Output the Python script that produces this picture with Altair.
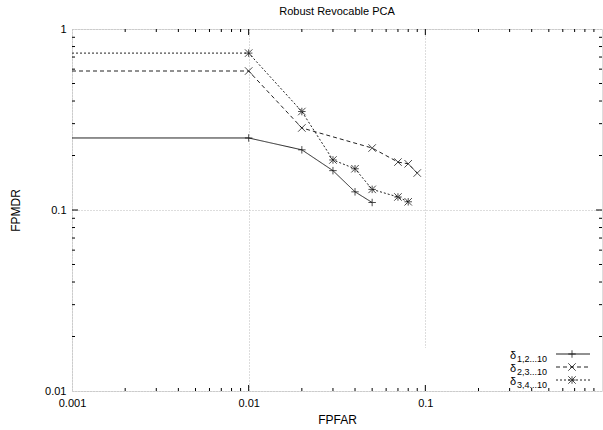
import altair as alt
import pandas as pd

# ---- data ----
x1 = [0.001, 0.01, 0.02, 0.03, 0.04, 0.05]
y1 = [0.25, 0.25, 0.215, 0.165, 0.126, 0.11]
x2 = [0.001, 0.01, 0.02, 0.05, 0.07, 0.08, 0.09]
y2 = [0.586, 0.586, 0.284, 0.22, 0.184, 0.18, 0.16]
x3 = [0.001, 0.01, 0.02, 0.03, 0.04, 0.05, 0.07, 0.08]
y3 = [0.736, 0.736, 0.35, 0.189, 0.169, 0.13, 0.118, 0.111]
series_sub = ["1,2...10", "2,3...10", "3,4...10"]
x_labels = [0.001, 0.01, 0.1]
y_labels = [0.01, 0.1, 1]
minor_mult = [2, 3, 4, 5, 6, 7, 8, 9]

W, H = 530, 362
FONT = "Liberation Sans"

xs = alt.Scale(type="log", domain=[0.001, 1], nice=False)
ys = alt.Scale(type="log", domain=[0.01, 1], nice=False)

dashes = [[1, 0], [4, 3], [2, 2]]
cross = "M-1,0L1,0M0,-1L0,1"
xmark = "M-1,-1L1,1M-1,1L1,-1"
star = "M-1,0L1,0M0,-1L0,1M-1,-1L1,1M-1,1L1,-1"
shapes = [cross, xmark, star]

layers = []

# base with axes + grid
base_df = pd.DataFrame({"x": [0.001], "y": [0.01]})
base = alt.Chart(base_df).mark_point(opacity=0).encode(
    x=alt.X("x:Q", scale=xs, title="FPFAR",
            axis=alt.Axis(values=x_labels, format="~g", ticks=False, domain=False,
                          grid=True, gridDash=[1, 2], gridColor="#bbbbbb",
                          labelFlush=False,
                          labelFontSize=11, labelPadding=6, titleFontSize=12,
                          titleFontWeight="normal", titlePadding=6,
                          labelColor="black", titleColor="black", labelFont=FONT,
                          titleFont=FONT)),
    y=alt.Y("y:Q", scale=ys, title="FPMDR",
            axis=alt.Axis(values=y_labels, format="~g", ticks=False, domain=False,
                          grid=True, gridDash=[1, 2], gridColor="#bbbbbb",
                          labelFlush=False,
                          labelFontSize=11, labelPadding=6, titleFontSize=12,
                          titleFontWeight="normal", titlePadding=22,
                          labelColor="black", titleColor="black", labelFont=FONT,
                          titleFont=FONT)),
)
layers.append(base)

# opaque key box (hides grid behind the legend)
box = pd.DataFrame({"k": [0]})
layers.append(alt.Chart(box).mark_rect(color="white").encode(
    x=alt.value(350), x2=alt.value(527), y=alt.value(319), y2=alt.value(361)))

# inward ticks (major + minor) on all four sides
xmaj = [0.01, 0.1]
xmin = [m * d for d in [0.001, 0.01, 0.1] for m in minor_mult]
ymaj = [0.1]
ymin = [m * d for d in [0.01, 0.1] for m in minor_mult]
for vals, ln in [(xmaj, 6), (xmin, 3)]:
    df = pd.DataFrame({"x": vals})
    for y0, y1_ in [(0, ln), (H, H - ln)]:
        layers.append(alt.Chart(df).mark_rule(color="black", strokeWidth=1).encode(
            x=alt.X("x:Q", scale=xs), y=alt.value(y0), y2=alt.value(y1_)))
for vals, ln in [(ymaj, 6), (ymin, 3)]:
    df = pd.DataFrame({"y": vals})
    for x0, x1_ in [(0, ln), (W, W - ln)]:
        layers.append(alt.Chart(df).mark_rule(color="black", strokeWidth=1).encode(
            y=alt.Y("y:Q", scale=ys), x=alt.value(x0), x2=alt.value(x1_)))

# data series
for i, (xv, yv) in enumerate([(x1, y1), (x2, y2), (x3, y3)]):
    df = pd.DataFrame({"x": xv, "y": yv})
    layers.append(alt.Chart(df).mark_line(color="#222222", strokeWidth=1,
                                          strokeDash=dashes[i], clip=True).encode(
        x=alt.X("x:Q", scale=xs), y=alt.Y("y:Q", scale=ys)))
    layers.append(alt.Chart(df).transform_filter("datum.x >= 0.01").mark_point(
        shape=shapes[i], size=56, color="black", strokeWidth=1, filled=False).encode(
        x=alt.X("x:Q", scale=xs), y=alt.Y("y:Q", scale=ys)))

# legend (bottom right, inside)
leg_rows = [325, 338, 351]
for i, sub in enumerate(series_sub):
    ry = leg_rows[i]
    one = pd.DataFrame({"t": ["δ"], "s": [sub]})
    layers.append(alt.Chart(one).mark_text(align="left", baseline="alphabetic", fontSize=11,
                                           font=FONT, color="black").encode(
        text="t:N", x=alt.value(438), y=alt.value(ry + 5)))
    layers.append(alt.Chart(one).mark_text(align="left", baseline="alphabetic", fontSize=9,
                                           font=FONT, color="black").encode(
        text="s:N", x=alt.value(445), y=alt.value(ry + 8)))
    layers.append(alt.Chart(one).mark_rule(color="#222222", strokeWidth=1,
                                           strokeDash=dashes[i]).encode(
        x=alt.value(484), x2=alt.value(518), y=alt.value(ry)))
    layers.append(alt.Chart(one).mark_point(shape=shapes[i], size=56, color="black",
                                            strokeWidth=1, filled=False).encode(
        x=alt.value(500), y=alt.value(ry)))

chart = alt.layer(*layers).properties(
    width=W, height=H,
    title=alt.Title("Robust Revocable PCA", fontSize=11, fontWeight="normal",
                    font=FONT, color="black", offset=6, anchor="middle"),
    autosize=alt.AutoSizeParams(type="none"),
    padding={"left": 72, "top": 29, "right": 1, "bottom": 39},
).configure_view(stroke="black", strokeWidth=1).configure(background="white")

chart.save("out.html", embed_options={"renderer": "svg", "actions": False})
